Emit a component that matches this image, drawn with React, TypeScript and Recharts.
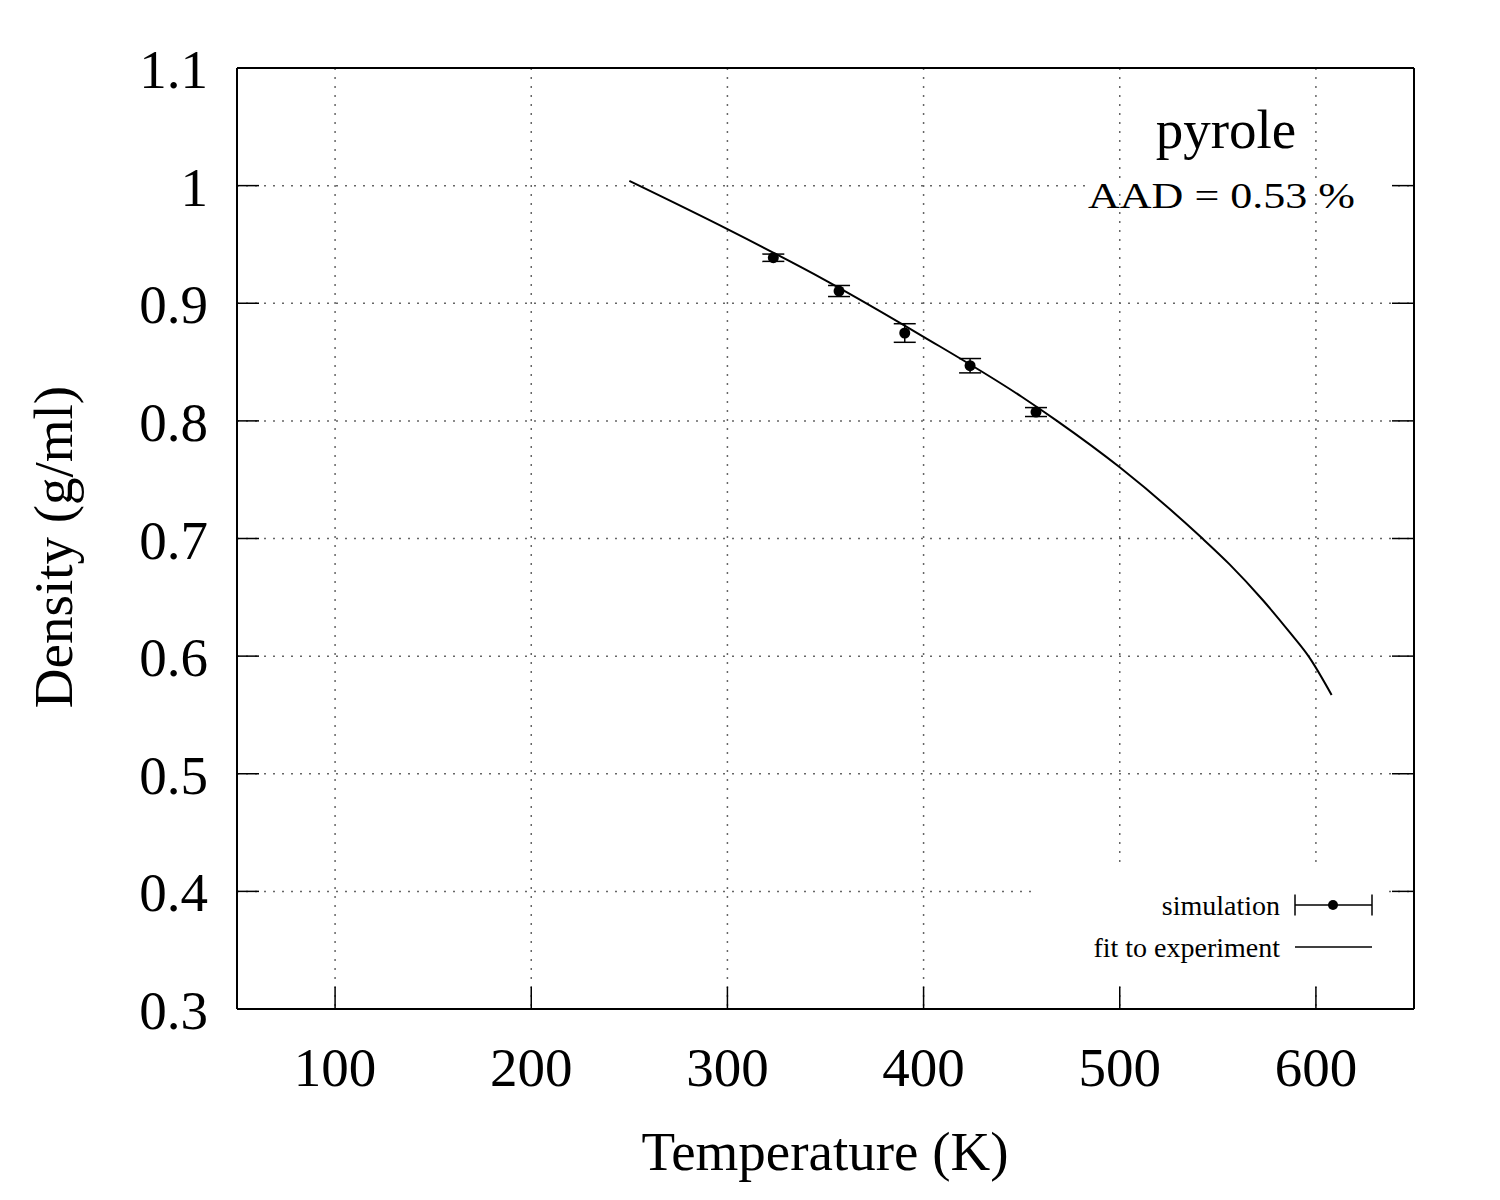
import {
  ComposedChart,
  Line,
  Scatter,
  ErrorBar,
  XAxis,
  YAxis,
  CartesianGrid,
  Legend,
  Customized,
} from "recharts";

// simulation points (K, g/ml, error)
const simT = [323.4, 356.9, 390.4, 423.7, 457.3];
const simRho = [0.9387, 0.9104, 0.8747, 0.8469, 0.8075];
const simErr = [0.0031, 0.0047, 0.0079, 0.0061, 0.0038];

// fit to experiment
const fitT = [250, 300, 350, 400, 450, 468, 500, 541.5, 556, 573, 587, 596.2, 608];
const fitRho = [1.004, 0.963, 0.9195, 0.8715, 0.8205, 0.8, 0.7605, 0.701, 0.678, 0.6475, 0.6195, 0.6, 0.567];

const xTicks = [100, 200, 300, 400, 500, 600];
const yTicks = [0.3, 0.4, 0.5, 0.6, 0.7, 0.8, 0.9, 1, 1.1];

const simData = simT.map((T, i) => ({ T, rho: simRho[i], err: simErr[i] }));
const fitData = fitT.map((T, i) => ({ T, rho: fitRho[i] }));

const FONT = "'Liberation Serif', 'DejaVu Serif', serif";
const TICK = 22;

const BottomTick = (p: any) => (
  <g>
    <line x1={p.x} y1={p.y} x2={p.x} y2={p.y - TICK} stroke="#000" strokeWidth={1.5} />
    <text x={p.x} y={p.y + 77} textAnchor="middle" fontSize={55} fontFamily={FONT} fill="#000">
      {p.payload.value}
    </text>
  </g>
);

const TopTick = (p: any) => (
  <line x1={p.x} y1={p.y} x2={p.x} y2={p.y + TICK} stroke="#000" strokeWidth={1.5} />
);

const LeftTick = (p: any) => (
  <g>
    <line x1={p.x} y1={p.y} x2={p.x + TICK} y2={p.y} stroke="#000" strokeWidth={1.5} />
    <text x={p.x - 29} y={p.y + 20} textAnchor="end" fontSize={55} fontFamily={FONT} fill="#000">
      {String(p.payload.value)}
    </text>
  </g>
);

const RightTick = (p: any) => (
  <line x1={p.x} y1={p.y} x2={p.x - TICK} y2={p.y} stroke="#000" strokeWidth={1.5} />
);

const Dot = (p: any) => <circle cx={p.cx} cy={p.cy} r={5.5} fill="#000" />;

const LegendBox = () => (
  <svg width={350} height={122} style={{ display: "block", background: "#fff" }}>
    <text x={243} y={52} textAnchor="end" fontSize={28} fontFamily={FONT}>simulation</text>
    <line x1={258} y1={42} x2={335} y2={42} stroke="#000" strokeWidth={1.5} />
    <line x1={258} y1={31.5} x2={258} y2={52.5} stroke="#000" strokeWidth={1.5} />
    <line x1={335} y1={31.5} x2={335} y2={52.5} stroke="#000" strokeWidth={1.5} />
    <circle cx={296} cy={42} r={5} fill="#000" />
    <text x={243} y={94} textAnchor="end" fontSize={28} fontFamily={FONT}>fit to experiment</text>
    <line x1={258} y1={84} x2={335} y2={84} stroke="#000" strokeWidth={1.5} />
  </svg>
);

const Labels = () => (
  <g fontFamily={FONT} fill="#000">
    <rect x={1086} y={183} width={305} height={6} fill="#fff" />
    <text x={1226} y={148} textAnchor="middle" fontSize={55}>pyrole</text>
    <text x={1088} y={208} fontSize={35} textLength={267} lengthAdjust="spacingAndGlyphs">
      AAD = 0.53 %
    </text>
    <text x={825} y={1170} textAnchor="middle" fontSize={55}>Temperature (K)</text>
    <text x={72} y={547} textAnchor="middle" fontSize={55} transform="rotate(-90, 72, 547)">
      Density (g/ml)
    </text>
  </g>
);

const axisLine = { stroke: "#000", strokeWidth: 2 };

export default function App() {
  return (
    <div style={{ position: "absolute", left: 0, top: 0, width: 1500, height: 1200, background: "#fff" }}>
      <ComposedChart
        width={1500}
        height={1200}
        margin={{ top: 67, left: 137, right: 85, bottom: 91 }}
      >
        <CartesianGrid stroke="#666" strokeWidth={1.5} strokeDasharray="2 7" />
        <XAxis
          type="number"
          dataKey="T"
          domain={[50, 650]}
          ticks={xTicks}
          interval={0}
          height={100}
          tickSize={0}
          tickMargin={0}
          tickLine={false}
          axisLine={axisLine}
          tick={<BottomTick />}
          allowDataOverflow
        />
        <XAxis
          xAxisId="top"
          orientation="top"
          type="number"
          domain={[50, 650]}
          ticks={xTicks}
          interval={0}
          height={1}
          tickSize={0}
          tickMargin={0}
          tickLine={false}
          axisLine={axisLine}
          tick={<TopTick />}
          allowDataOverflow
        />
        <YAxis
          type="number"
          dataKey="rho"
          domain={[0.3, 1.1]}
          ticks={yTicks}
          interval={0}
          width={100}
          tickSize={0}
          tickMargin={0}
          tickLine={false}
          axisLine={axisLine}
          tick={<LeftTick />}
          allowDataOverflow
        />
        <YAxis
          yAxisId="right"
          orientation="right"
          type="number"
          domain={[0.3, 1.1]}
          ticks={yTicks}
          interval={0}
          width={1}
          tickSize={0}
          tickMargin={0}
          tickLine={false}
          axisLine={axisLine}
          tick={<RightTick />}
          allowDataOverflow
        />
        <Line
          data={fitData}
          dataKey="rho"
          type="monotone"
          stroke="#000"
          strokeWidth={2}
          dot={false}
          isAnimationActive={false}
        />
        <Scatter data={simData} dataKey="rho" shape={<Dot />} isAnimationActive={false}>
          <ErrorBar dataKey="err" direction="y" width={11} stroke="#000" strokeWidth={1.5} isAnimationActive={false} />
        </Scatter>
        <Customized component={<Labels />} />
        <Legend
          layout="vertical"
          verticalAlign="middle"
          align="center"
          wrapperStyle={{ position: "absolute", left: 1037, top: 863, width: 350, height: 122 }}
          content={() => <LegendBox />}
        />
      </ComposedChart>
    </div>
  );
}
